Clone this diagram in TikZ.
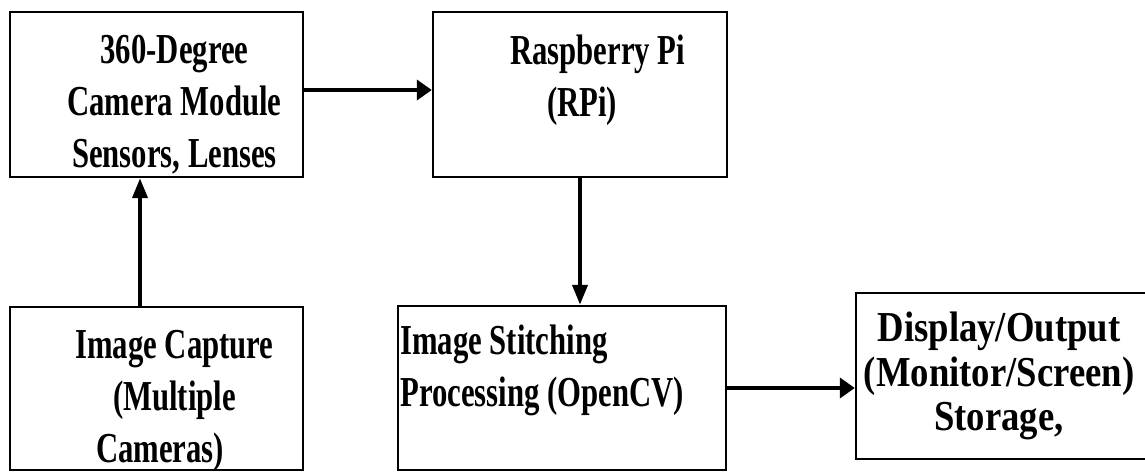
\documentclass[tikz,border=0pt]{standalone}
\usepackage{fontspec}
\newfontfamily\blockfont{Liberation Serif}[FakeStretch=0.72]
\newfontfamily\blockwidefont{Liberation Serif}[FakeStretch=0.86]
\usetikzlibrary{arrows.meta,calc}

\begin{document}
\begin{tikzpicture}[x=0.75pt,y=0.75pt,yscale=-1,xscale=1,
    blockbox/.style={draw, line width=1.8pt, inner sep=0pt},
    blocktext/.style={inner sep=0pt, font={\blockfont\bfseries\fontsize{32}{39}\selectfont}},
    harrow/.style={line width=3.6pt, -{Triangle[length=11.25pt,width=15pt]}},
    varrow/.style={line width=3pt, -{Triangle[length=15pt,width=11.25pt]}}]
\useasboundingbox (0,0) rectangle (1145,471);

% Blocks
\node [blockbox, minimum width=219.75pt, minimum height=123.75pt] (boxA) at (156.5,94.5) {};
\node [blockbox, minimum width=220.5pt, minimum height=123.75pt] (boxB) at (580,94.5) {};
\node [blockbox, minimum width=219.75pt, minimum height=122.25pt] (boxC) at (156.5,388.5) {};
\node [blockbox, minimum width=246pt, minimum height=123pt] (boxD) at (562,388) {};
\node [blockbox, minimum width=220.5pt, minimum height=124.5pt] (boxE) at (1003,376) {};

% Text Nodes
\node [blocktext, align=center, anchor=north] (textA) at (174.5,35) {360-Degree\\Camera Module\\Sensors, Lenses};
\node [blocktext, align=left, anchor=north west] (textB) at (510,35) {Raspberry Pi\\\hspace*{27.75pt}(RPi)};
\node [blocktext, align=center, anchor=north] (textC) at (174.5,330) {Image Capture\\(Multiple\\Cameras)\hspace*{21.75pt}};
\node [blocktext, align=left, anchor=north west] (textD) at (400,325) {Image Stitching\\Processing (OpenCV)};
\node [blocktext, align=center, anchor=north, font={\blockwidefont\bfseries\fontsize{32}{33.4}\selectfont}] (textE) at (999,312) {Display/Output\\(Monitor/Screen)\\Storage,};

% Connectors
\draw [harrow] ($(boxA.east)+(0,-4.5)$) -- ($(boxB.west)+(0,-4.5)$);
\draw [varrow] (boxB.south) -- (boxB.south |- boxD.north);
\coordinate (capup) at ($(boxC.north)+(-16.5,0)$);
\draw [varrow] (capup) -- (capup |- boxA.south);
\draw [harrow] (boxD.east) -- (boxD.east -| boxE.west);

\end{tikzpicture}
\end{document}
